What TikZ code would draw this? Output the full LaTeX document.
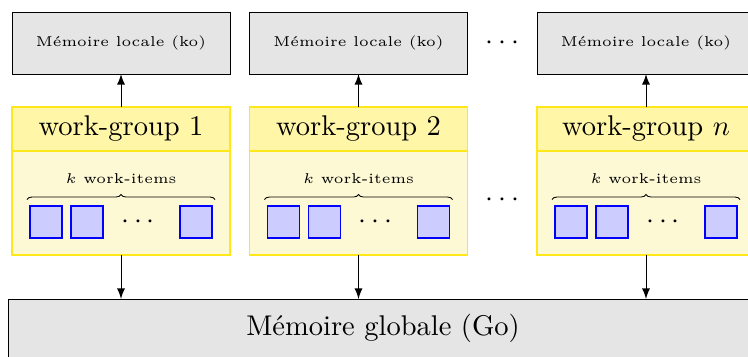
\documentclass[tikz,border=0pt]{standalone}
\usetikzlibrary{decorations.pathreplacing,arrows}
\definecolor{hdrfill}{HTML}{FFF6A8}
\definecolor{bodyfill}{HTML}{FEF9D5}
\definecolor{grpline}{HTML}{FFE81A}
\def\p{*0.35088pt}
\tikzset{
  localbox/.style={draw=black, fill=black!10, inner sep=0pt, outer sep=0pt,
    minimum width=218\p, minimum height=62\p, font=\tiny},
  hdrbox/.style={draw=grpline, line width=0.4pt, fill=hdrfill, inner sep=0pt, outer sep=0pt,
    minimum width=218\p, minimum height=44\p, font=\normalsize},
  bodybox/.style={draw=grpline, line width=0.4pt, fill=bodyfill, inner sep=0pt, outer sep=0pt,
    minimum width=218\p, minimum height=104\p},
  itembox/.style={draw=blue, line width=0.4pt, fill=blue!20, inner sep=0pt, outer sep=0pt,
    minimum width=32\p, minimum height=32\p},
  globalbox/.style={draw=black, fill=black!10, inner sep=0pt, outer sep=0pt,
    minimum width=750\p, minimum height=59\p, font=\normalsize},
  arr/.style={->, >=latex},
  bracestyle/.style={decorate, decoration={brace, amplitude=5\p}},
}
\begin{document}
\begin{tikzpicture}[x=0.35088pt, y=-0.35088pt, line width=0.3pt]
\useasboundingbox (0,0) rectangle (748,356);
\clip (0,0) rectangle (748,356);
\node[globalbox] (G) at (383,328.5) {Mémoire globale (Go)};
\foreach \c/\lab/\i in {121/1/1, 358.5/2/2, 646/$n$/n}{
  \node[localbox] (L\i) at (\c,43) {Mémoire locale (ko)};
  \node[bodybox] (B\i) at (\c,203) {};
  \node[hdrbox] (H\i) at (\c,129) {work-group \lab};
  \node[font=\tiny, inner sep=0pt] (K\i) at (\c,179) {$k$ work-items};
  \coordinate (BL\i) at (\c-94,199.5);
  \coordinate (BR\i) at (\c+94,199.5);
  \draw[bracestyle] (BL\i) -- (BR\i);
  \node[itembox] (S\i a) at (\c-75,222) {};
  \node[itembox] (S\i b) at (\c-34,222) {};
  \node[inner sep=0pt] (D\i) at (\c+17,222) {$\cdots$};
  \node[itembox] (S\i c) at (\c+75,222) {};
  \draw[arr] (H\i.north) -- (L\i.south);
  \draw[arr] (B\i.south) -- (B\i.south |- G.north);
}
\node[inner sep=0pt] (DT) at (502.5,43) {$\cdots$};
\node[inner sep=0pt] (DM) at (502.5,200) {$\cdots$};
\end{tikzpicture}
\end{document}
